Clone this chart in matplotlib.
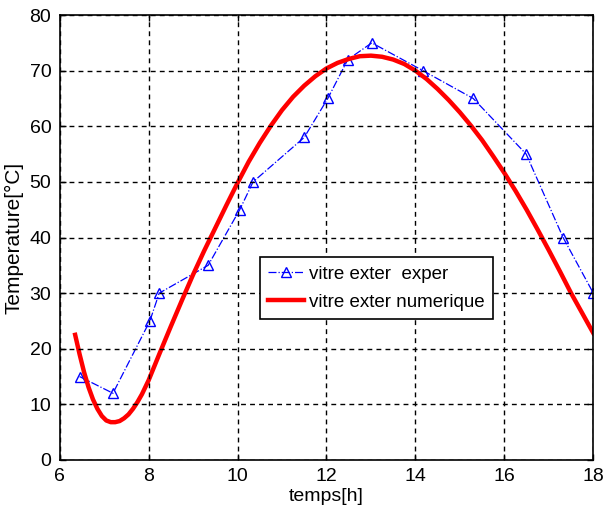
import matplotlib
matplotlib.use("Agg")
import matplotlib.pyplot as plt

plt.rcParams['font.family'] = ['Liberation Sans', 'DejaVu Sans']

# measured glass temperature (experiment)
t_exp = [6.45, 7.2, 8.03, 8.24, 9.34, 10.05, 10.35, 11.5, 12.03, 12.48, 13.02,
         14.17, 15.3, 16.49, 17.32, 18.0]
T_exp = [15, 12, 25, 30, 35, 45, 50, 58, 65, 72, 75, 70, 65, 55, 40, 30]

# simulated glass temperature
t_num = [6.35, 6.45, 6.55, 6.65, 6.75, 6.85, 6.95, 7.05, 7.15, 7.25, 7.35, 7.45,
         7.55, 7.65, 7.75, 7.85, 8.0, 8.25, 8.5, 8.75, 9.0, 9.25, 9.5, 9.75,
         10.0, 10.25, 10.5, 10.75, 11.0, 11.25, 11.5, 11.75, 12.0, 12.25, 12.5,
         12.75, 13.0, 13.25, 13.5, 13.75, 14.0, 14.25, 14.5, 14.75, 15.0, 15.25,
         15.5, 15.75, 16.0, 16.25, 16.5, 16.75, 17.0, 17.25, 17.5, 17.75, 18.0]
T_num = [22.5, 19.0, 15.8, 13.1, 10.9, 9.2, 7.9, 7.1, 6.8, 6.8, 7.0, 7.5,
         8.2, 9.2, 10.4, 11.8, 14.3, 19.2, 24.0, 28.7, 33.3, 37.6, 41.7, 45.8,
         49.8, 53.6, 57.0, 60.1, 62.9, 65.3, 67.3, 69.0, 70.4, 71.4, 72.1,
         72.6, 72.7, 72.5, 72.0, 71.2, 70.0, 68.5, 66.7, 64.7, 62.5, 60.1,
         57.5, 54.6, 51.6, 48.4, 45.0, 41.4, 37.7, 33.9, 30.0, 26.4, 22.8]

xticks = [6, 8, 10, 12, 14, 16, 18]
yticks = [0, 10, 20, 30, 40, 50, 60, 70, 80]

fig = plt.figure(figsize=(6.05, 5.12), dpi=100)
ax = fig.add_axes([0.0985, 0.1016, 0.8822, 0.869])

ax.plot(t_exp, T_exp, color='#0000ff', lw=0.9, ls='-.', marker='^',
        markersize=7, markerfacecolor='none', markeredgecolor='#0000ff',
        markeredgewidth=1.0, label='vitre exter  exper')
ax.plot(t_num, T_num, color='#ff0000', lw=3.2, label='vitre exter numerique')

ax.set_xlim(6, 18)
ax.set_ylim(0, 80)
ax.set_xticks(xticks)
ax.set_yticks(yticks)
ax.tick_params(direction='in', top=True, right=True, length=4, width=1,
               labelsize=14, pad=6)
for s in ax.spines.values():
    s.set_linewidth(1.2)

ax.grid(True, color='black', ls=(0, (3.5, 3)), lw=1.0)
ax.set_axisbelow(False)

ax.set_xlabel('temps[h]', fontsize=14, labelpad=2)
ax.set_ylabel('Temperature[°C]', fontsize=15, labelpad=4)

leg = ax.legend(loc='upper left', bbox_to_anchor=(0.3755, 0.456), fontsize=13.5,
                frameon=True, fancybox=False, edgecolor='black',
                framealpha=1, handlelength=1.9, borderpad=0.45,
                labelspacing=0.6, handletextpad=0.25, borderaxespad=0)
leg.get_frame().set_linewidth(1.2)

fig.savefig('out.png', dpi=100)
